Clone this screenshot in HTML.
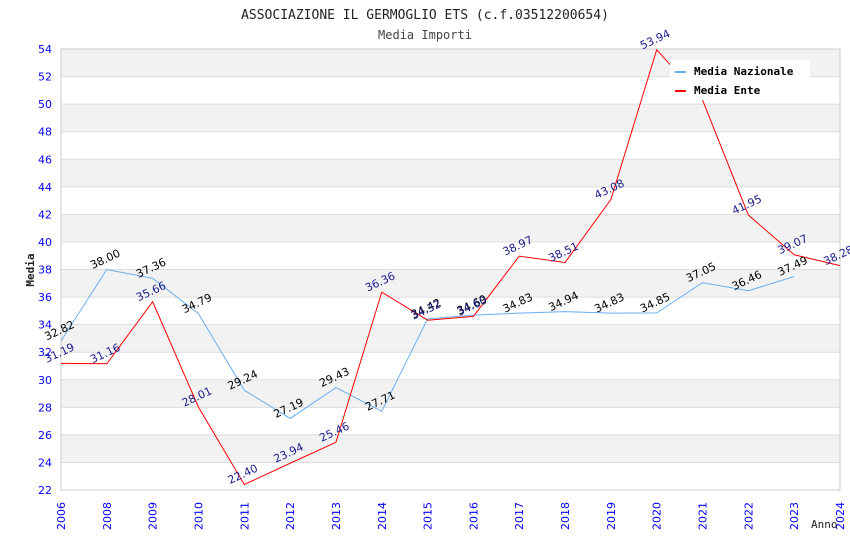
<!DOCTYPE html>
<html><head><meta charset="utf-8"><style>
body{margin:0;background:#fff}
svg{font-family:"DejaVu Sans Mono","Liberation Mono",monospace}
.sans{font-family:"DejaVu Sans","Liberation Sans",sans-serif}
</style></head><body>
<svg width="850" height="550" xmlns="http://www.w3.org/2000/svg">
<g id="bands"></g><g id="axes"></g><g id="series"></g><g id="labels"></g>
<text x="425" y="19" text-anchor="middle" font-size="13" fill="#222">ASSOCIAZIONE IL GERMOGLIO ETS (c.f.03512200654)</text>
<text x="425" y="39" text-anchor="middle" font-size="12" fill="#444">Media Importi</text>
<text x="34" y="270" text-anchor="middle" font-size="11" font-weight="bold" transform="rotate(-90 34 270)" fill="#222">Media</text>
<text x="811" y="528" font-size="11" fill="#222">Anno</text>
<g>
<rect x="670" y="60" width="140" height="40" fill="#fff"/>
<line x1="675" y1="72" x2="686" y2="72" stroke="#6aaeef" stroke-width="2"/>
<text x="694" y="75" font-size="11" font-weight="bold" fill="#000">Media Nazionale</text>
<line x1="675" y1="91" x2="686" y2="91" stroke="#f00" stroke-width="2"/>
<text x="694" y="94" font-size="11" font-weight="bold" fill="#000">Media Ente</text>
</g>
</svg>
<script>
const categories=["2006","2008","2009","2010","2011","2012","2013","2014","2015","2016","2017","2018","2019","2020","2021","2022","2023","2024"];
const nazionale=[32.82,38.00,37.36,34.79,29.24,27.19,29.43,27.71,34.42,34.69,34.83,34.94,34.83,34.85,37.05,36.46,37.49,null];
const ente=[31.19,31.16,35.66,28.01,22.40,23.94,25.46,36.36,34.32,34.60,38.97,38.51,43.08,53.94,50.30,41.95,39.07,38.28];
const yTicks=[22,24,26,28,30,32,34,36,38,40,42,44,46,48,50,52,54];
const NS="http://www.w3.org/2000/svg";
const L=61,R=840,T=49,B=490,yMin=22,yMax=54;
const x=i=>L+i*(R-L)/(categories.length-1);
const y=v=>B-(v-yMin)/(yMax-yMin)*(B-T);
function mk(t,a,p){const e=document.createElementNS(NS,t);for(const k in a)e.setAttribute(k,a[k]);p.appendChild(e);return e;}
const bands=document.getElementById('bands'),axes=document.getElementById('axes'),ser=document.getElementById('series'),lab=document.getElementById('labels');
for(let i=0;i<yTicks.length-1;i++){
 const r=mk('rect',{x:L,y:y(yTicks[i+1]),width:R-L,height:y(yTicks[i])-y(yTicks[i+1]),fill:(yTicks.length-2-i)%2==0?'#f2f2f2':'#fff'},bands);
 
 
}
yTicks.forEach(v=>{
 const l=mk('line',{x1:L,x2:R,y1:y(v),y2:y(v),stroke:'#ddd'},axes);
 
 
 const t=mk('text',{x:L-9,y:y(v)+4,'text-anchor':'end','font-size':11,fill:'#00f',class:'sans'},axes);t.textContent=v;
 
 
});
mk('rect',{x:L,y:T,width:R-L,height:B-T,fill:'none',stroke:'#ccc'},axes);
categories.forEach((c,i)=>{
 const t=mk('text',{x:x(i)+4,y:530,'text-anchor':'start','font-size':11,fill:'#00f',class:'sans',transform:`rotate(-90 ${x(i)+4} 530)`},axes);t.textContent=c;
 
 
});
function draw(data,color,lc,name){
 let d='';data.forEach((v,i)=>{if(v==null)return;d+=(d?'L':'M')+x(i)+' '+y(v);});
 const p=mk('path',{d,fill:'none',stroke:color,'stroke-width':1},ser);
 
 
 data.forEach((v,i)=>{if(v==null)return;
  const px=x(i),py=y(v)-7;
  const t=mk('text',{x:px,y:py,'text-anchor':'middle','font-size':11,fill:lc,class:'sans',transform:`rotate(-25 ${px} ${py})`},lab);t.textContent=v.toFixed(2);
  
  
 });
}
draw(nazionale,'#6aaeef','#000','nazionale');
draw(ente,'#f00','#1a1a8c','ente');
</script>
</body></html>
